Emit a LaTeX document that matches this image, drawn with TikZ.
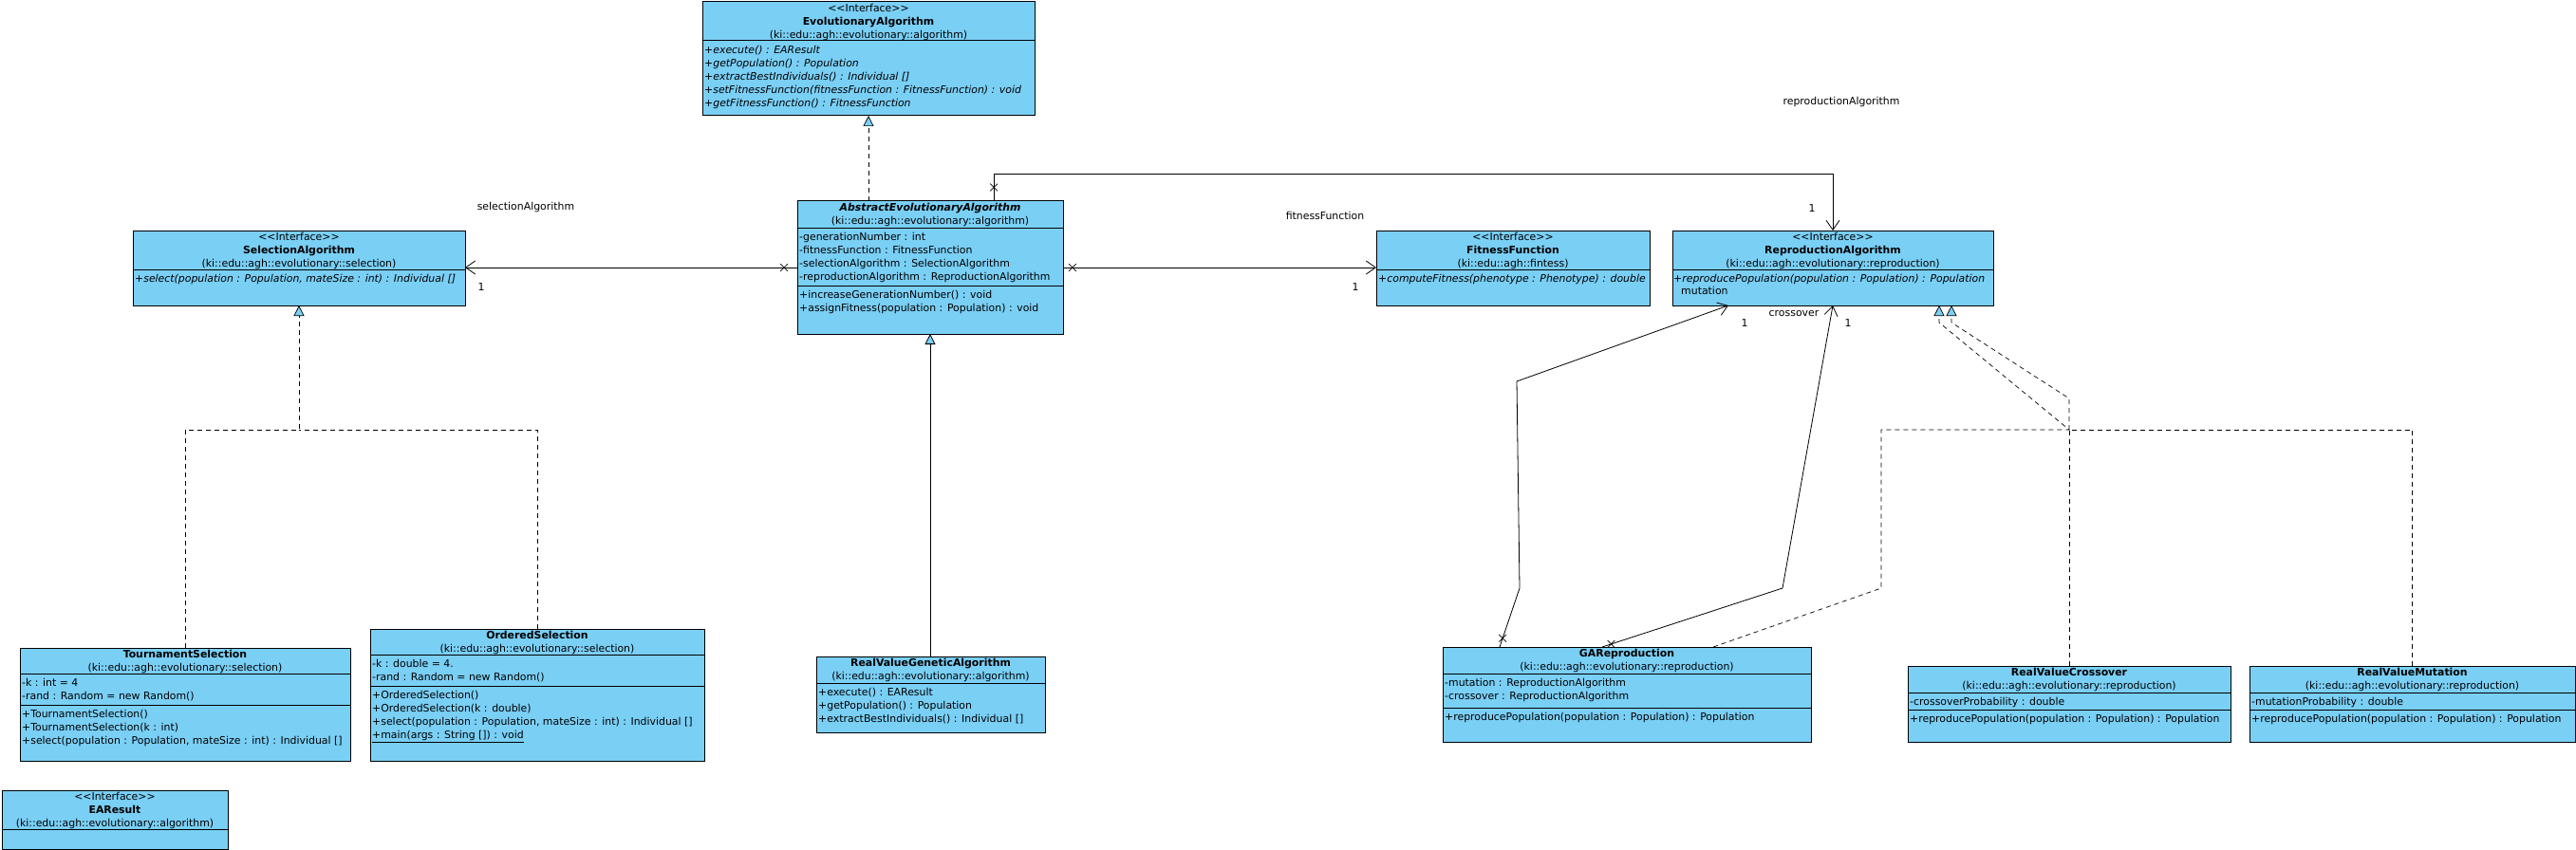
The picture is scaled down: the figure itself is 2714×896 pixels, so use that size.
\documentclass[tikz,border=0pt]{standalone}
\usepackage{fontspec}
\setmainfont{DejaVu Sans}
\usetikzlibrary{arrows.meta, shapes.misc}
\definecolor{umlblue}{RGB}{122,207,245}
\newcommand{\fl}{\rule{0pt}{10pt}}

\begin{document}
\begin{tikzpicture}[x=1pt, y=-1pt,
    cls/.style={draw=black, fill=umlblue, line width=1pt, anchor=north west, inner sep=0pt, outer sep=0pt},
    hdr/.style={anchor=north, align=center, inner sep=0pt, font=\fontsize{10.9}{14}\selectfont},
    mem/.style={anchor=north west, align=left, inner sep=0pt, font=\fontsize{10.9}{14}\selectfont},
    sep/.style={line width=1pt},
    lbl/.style={inner sep=0pt, font=\fontsize{10.9}{14}\selectfont},
    assoc/.style={-{Straight Barb[length=10pt, width=14pt]}, line width=0.8pt},
    dashline/.style={dash pattern=on 5pt off 4pt, line width=0.7pt},
    realize/.style={dashline, -{Triangle[length=11pt, width=11pt, fill=umlblue]}},
    inherit/.style={-{Triangle[length=11pt, width=11pt, fill=umlblue]}, line width=0.8pt},
    xmark/.style={cross out, draw, solid, minimum size=7pt, inner sep=0pt, line width=0.7pt}
]
\useasboundingbox (0,0) rectangle (2714,896);

% Define the class boxes
\node[cls, minimum width=350pt, minimum height=120pt] (ea) at (740,2) {};
\node[hdr] (eahead) at (ea.north) {\fl<{}<Interface>{}>\\\textbf{EvolutionaryAlgorithm}\\(ki::edu::agh::evolutionary::algorithm)};
\draw[sep] (740,43) -- (1090,43);
\node[mem] (eaops) at (742,46) {\fl\textit{+execute() : EAResult}\\\textit{+getPopulation() : Population}\\\textit{+extractBestIndividuals() : Individual []}\\\textit{+setFitnessFunction(fitnessFunction : FitnessFunction) : void}\\\textit{+getFitnessFunction() : FitnessFunction}};

\node[cls, minimum width=350pt, minimum height=79pt] (sel) at (140,243) {};
\node[hdr] (selhead) at (sel.north) {\fl<{}<Interface>{}>\\\textbf{SelectionAlgorithm}\\(ki::edu::agh::evolutionary::selection)};
\draw[sep] (140,284) -- (490,284);
\node[mem] (selops) at (142,287) {\fl\textit{+select(population : Population, mateSize : int) : Individual []}};

\node[cls, minimum width=280pt, minimum height=140pt] (aea) at (840,212) {};
\node[hdr] (aeahead) at (aea.north) {\fl\textbf{\textit{AbstractEvolutionaryAlgorithm}}\\(ki::edu::agh::evolutionary::algorithm)};
\draw[sep] (840,240) -- (1120,240);
\node[mem] (aeaattr) at (842,243) {\fl-generationNumber : int\\-fitnessFunction : FitnessFunction\\-selectionAlgorithm : SelectionAlgorithm\\-reproductionAlgorithm : ReproductionAlgorithm};
\draw[sep] (840,301) -- (1120,301);
\node[mem] (aeaops) at (842,304) {\fl+increaseGenerationNumber() : void\\+assignFitness(population : Population) : void};

\node[cls, minimum width=288pt, minimum height=79pt] (ff) at (1450,243) {};
\node[hdr] (ffhead) at (ff.north) {\fl<{}<Interface>{}>\\\textbf{FitnessFunction}\\(ki::edu::agh::fintess)};
\draw[sep] (1450,284) -- (1738,284);
\node[mem] (ffops) at (1452,287) {\fl\textit{+computeFitness(phenotype : Phenotype) : double}};

\node[cls, minimum width=338pt, minimum height=79pt] (ra) at (1762,243) {};
\node[hdr] (rahead) at (ra.north) {\fl<{}<Interface>{}>\\\textbf{ReproductionAlgorithm}\\(ki::edu::agh::evolutionary::reproduction)};
\draw[sep] (1762,284) -- (2100,284);
\node[mem] (raops) at (1763,287) {\fl\textit{+reproducePopulation(population : Population) : Population}};

\node[cls, minimum width=348pt, minimum height=119pt] (ts) at (21,683) {};
\node[hdr] (tshead) at (ts.north) {\fl\textbf{TournamentSelection}\\(ki::edu::agh::evolutionary::selection)};
\draw[sep] (21,710) -- (369,710);
\node[mem] (tsattr) at (23,713) {\fl-k : int = 4\\-rand : Random = new Random()};
\draw[sep] (21,743) -- (369,743);
\node[mem] (tsops) at (23,746) {\fl+TournamentSelection()\\+TournamentSelection(k : int)\\+select(population : Population, mateSize : int) : Individual []};

\node[cls, minimum width=352pt, minimum height=139pt] (os) at (390,663) {};
\node[hdr] (oshead) at (os.north) {\fl\textbf{OrderedSelection}\\(ki::edu::agh::evolutionary::selection)};
\draw[sep] (390,690) -- (742,690);
\node[mem] (osattr) at (392,693) {\fl-k : double = 4.\\-rand : Random = new Random()};
\draw[sep] (390,723) -- (742,723);
\node[mem] (osops) at (392,726) {\fl+OrderedSelection()\\+OrderedSelection(k : double)\\+select(population : Population, mateSize : int) : Individual []\\\underline{+main(args : String []) : void}};

\node[cls, minimum width=241pt, minimum height=80pt] (rvga) at (860,692) {};
\node[hdr] (rvgahead) at (rvga.north) {\fl\textbf{RealValueGeneticAlgorithm}\\(ki::edu::agh::evolutionary::algorithm)};
\draw[sep] (860,720) -- (1101,720);
\node[mem] (rvgaops) at (862,723) {\fl+execute() : EAResult\\+getPopulation() : Population\\+extractBestIndividuals() : Individual []};

\node[cls, minimum width=388pt, minimum height=100pt] (gar) at (1520,682) {};
\node[hdr] (garhead) at (gar.north) {\fl\textbf{GAReproduction}\\(ki::edu::agh::evolutionary::reproduction)};
\draw[sep] (1520,710) -- (1908,710);
\node[mem] (garattr) at (1522,713) {\fl-mutation : ReproductionAlgorithm\\-crossover : ReproductionAlgorithm};
\draw[sep] (1520,746) -- (1908,746);
\node[mem] (garops) at (1522,749) {\fl+reproducePopulation(population : Population) : Population};

\node[cls, minimum width=340pt, minimum height=80pt] (rvc) at (2010,702) {};
\node[hdr] (rvchead) at (rvc.north) {\fl\textbf{RealValueCrossover}\\(ki::edu::agh::evolutionary::reproduction)};
\draw[sep] (2010,730) -- (2350,730);
\node[mem] (rvcattr) at (2012,733) {\fl-crossoverProbability : double};
\draw[sep] (2010,748) -- (2350,748);
\node[mem] (rvcops) at (2012,751) {\fl+reproducePopulation(population : Population) : Population};

\node[cls, minimum width=343pt, minimum height=80pt] (rvm) at (2370,702) {};
\node[hdr] (rvmhead) at (rvm.north) {\fl\textbf{RealValueMutation}\\(ki::edu::agh::evolutionary::reproduction)};
\draw[sep] (2370,730) -- (2713,730);
\node[mem] (rvmattr) at (2372,733) {\fl-mutationProbability : double};
\draw[sep] (2370,748) -- (2713,748);
\node[mem] (rvmops) at (2372,751) {\fl+reproducePopulation(population : Population) : Population};

\node[cls, minimum width=238pt, minimum height=62pt] (ear) at (2,833) {};
\node[hdr] (earhead) at (ear.north) {\fl<{}<Interface>{}>\\\textbf{EAResult}\\(ki::edu::agh::evolutionary::algorithm)};
\draw[sep] (2,874) -- (240,874);

% Bend points of the connectors
\coordinate (rabend) at (1931,183);
\coordinate (selbus) at (315,453);
\coordinate (mutlow) at (1601,620);
\coordinate (muthigh) at (1598,402);
\coordinate (crolow) at (1878,620);
\coordinate (gabend1) at (1982,620);
\coordinate (gabend2) at (1982,453);
\coordinate (rabus) at (2180,453);
\coordinate (rvcbend) at (2180,420);
\coordinate (tria) at (2043,340);
\coordinate (trib) at (2056,340);

% Generalizations and realizations (shared legs drawn once)
\draw[realize] (ea.south |- aea.north) -- (ea.south);
\draw[inherit] (aea.south |- rvga.north) -- (aea.south);
\draw[realize] (ts.north) |- (selbus) -- (sel.south);
\draw[dashline] (os.north) |- (selbus);
\draw[realize] ([xshift=91pt]gar.north) -- (gabend1) -- (gabend2) -- (rabus) -- (tria) -- ([xshift=112pt]ra.south);
\draw[dashline] (rvm.north) |- (rabus);
\draw[realize] (rvc.north |- rabus) -- (rvcbend) -- (trib) -- ([xshift=125pt]ra.south);
\draw[dashline] (rvc.north) -- (rvc.north |- rabus);

% Associations
\draw[assoc] (aea.west) -- node[xmark, pos=0.04] (xsel) {} (sel.east |- aea.west);
\draw[assoc] (aea.east) -- node[xmark, pos=0.03] (xff) {} (ff.west |- aea.east);
\draw[assoc] ([xshift=67pt]aea.north) |- node[xmark, pos=0.25] (xra) {} (rabend) -- (ra.north);
\draw[assoc] ([xshift=-134pt]gar.north) -- node[xmark, pos=0.15] (xmut) {} (mutlow) -- (muthigh) -- ([xshift=-110pt]ra.south);
\draw[assoc] ([xshift=-26pt]gar.north) -- node[xmark, pos=0.05] (xcro) {} (crolow) -- (ra.south);

% Role names and multiplicities
\node[lbl] (lsel) at (554,218) {selectionAlgorithm};
\node[lbl] (lsel1) at (507,303) {1};
\node[lbl] (lff) at (1396,227) {fitnessFunction};
\node[lbl] (lff1) at (1428,303) {1};
\node[lbl] (lra) at (1940,107) {reproductionAlgorithm};
\node[lbl] (lra1) at (1909,220) {1};
\node[lbl, anchor=base west] (lmut) at (1771,310) {mutation};
\node[lbl] (lmut1) at (1838,341) {1};
\node[lbl] (lcro) at (1890,331) {crossover};
\node[lbl] (lcro1) at (1947,341) {1};

\end{tikzpicture}
\end{document}
